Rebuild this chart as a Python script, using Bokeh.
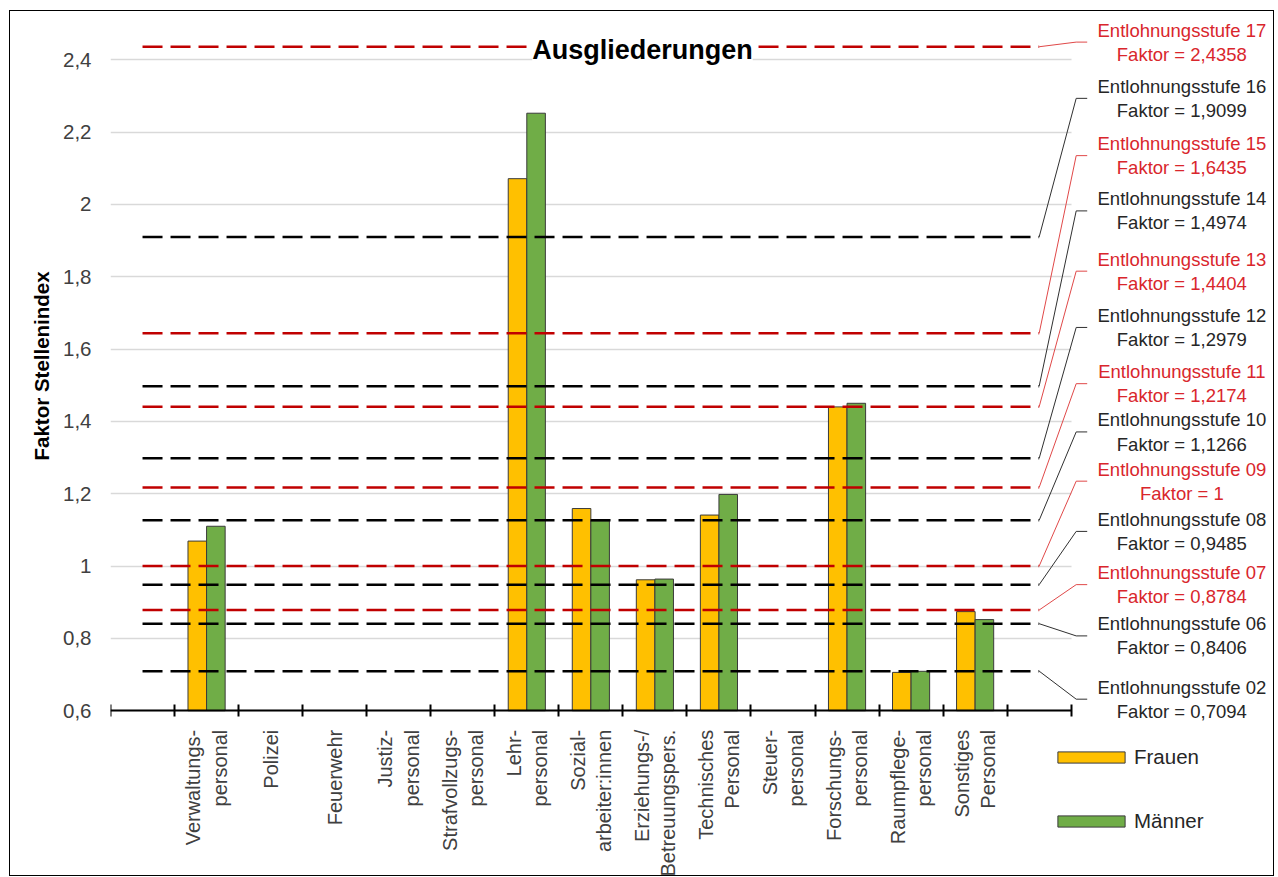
import math
from bokeh.plotting import figure
from bokeh.models import Range1d, FixedTicker, Label, Legend, LegendItem, ColumnDataSource
from bokeh.core.properties import value
from bokeh.embed import file_html
from bokeh.resources import INLINE

# ---------------- data ----------------
categories = ["", "Verwaltungs-\npersonal", "Polizei", "Feuerwehr", "Justiz-\npersonal",
              "Strafvollzugs-\npersonal", "Lehr-\npersonal", "Sozial-\narbeiter:innen",
              "Erziehungs-/\nBetreuungspers.", "Technisches\nPersonal", "Steuer-\npersonal",
              "Forschungs-\npersonal", "Raumpflege-\npersonal", "Sonstiges\nPersonal", ""]
frauen = [None, 1.069, None, None, None, None, 2.071, 1.159, 0.962, 1.141, None, 1.440, 0.706, 0.874, None]
maenner = [None, 1.110, None, None, None, None, 2.252, 1.125, 0.964, 1.198, None, 1.450, 0.709, 0.852, None]

stufen = ["17", "16", "15", "14", "13", "12", "11", "10", "09", "08", "07", "06", "02"]
faktoren = [2.4358, 1.9099, 1.6435, 1.4974, 1.4404, 1.2979, 1.2174, 1.1266, 1.0, 0.9485, 0.8784, 0.8406, 0.7094]
faktor_text = ["2,4358", "1,9099", "1,6435", "1,4974", "1,4404", "1,2979", "1,2174", "1,1266", "1",
               "0,9485", "0,8784", "0,8406", "0,7094"]
stufe_rot = [True, False, True, False, True, False, True, False, True, False, True, False, False]

y_ticks = [0.6, 0.8, 1.0, 1.2, 1.4, 1.6, 1.8, 2.0, 2.2, 2.4]
y_tick_labels = ["0,6", "0,8", "1", "1,2", "1,4", "1,6", "1,8", "2", "2,2", "2,4"]

# label anchor heights (layout, in axis units) for the right-hand annotations
label_y = [2.4486, 2.2931, 2.1347, 1.9819, 1.8153, 1.6597, 1.5042, 1.3708, 1.2347,
           1.0958, 0.9486, 0.8069, 0.6319]

# ---------------- styles ----------------
FONT = "Liberation Sans"
YELLOW = "#FFC000"
GREEN = "#70AD47"
RED_LINE = "#C00000"
RED_TEXT = "#D9262C"
RED_LEAD = "#E04848"
DARK = "#262626"

n = len(categories)
y_base = 0.6

p = figure(width=1265, height=866, output_backend="svg", toolbar_location=None,
           x_range=Range1d(0, 18.19), y_range=Range1d(0.1389, 2.5111),
           min_border_left=100, min_border_right=0, min_border_top=8, min_border_bottom=0)
p.styles = {"border": "1px solid black", "margin-left": "9px", "margin-top": "10px"}
p.outline_line_color = None
p.background_fill_color = "white"
p.border_fill_color = "white"

# grid
p.xgrid.visible = False
p.ygrid.ticker = FixedTicker(ticks=y_ticks)
p.ygrid.grid_line_color = "#D9D9D9"
p.ygrid.grid_line_width = 1.5
p.ygrid.cross_bounds = (0, n)

# y axis
ya = p.yaxis[0]
ya.ticker = FixedTicker(ticks=y_ticks)
ya.major_label_overrides = dict(zip(y_ticks, y_tick_labels))
ya.axis_line_color = None
ya.major_tick_line_color = None
ya.minor_tick_line_color = None
ya.major_tick_out = 0
ya.major_label_standoff = 19
ya.major_label_text_font = FONT
ya.major_label_text_font_size = "20.5px"
ya.major_label_text_color = "#404040"
# leading no-break spaces lift the centred title to sit beside the 0,6-2,4 scale
ya.axis_label = "\u00a0" * 29 + "Faktor Stellenindex"
ya.axis_label_text_font = FONT
ya.axis_label_text_font_style = "bold"
ya.axis_label_text_font_size = "20.5px"
ya.axis_label_text_color = "black"
ya.axis_label_standoff = 7

# x axis (drawn at the 0,6 baseline)
centers = [i + 0.5 for i in range(n)]
xa = p.xaxis[0]
xa.fixed_location = y_base
xa.ticker = FixedTicker(ticks=centers, minor_ticks=list(range(n + 1)))
xa.major_label_overrides = dict(zip(centers, categories))
xa.bounds = (0, n)
xa.axis_line_color = "black"
xa.axis_line_width = 2
xa.major_tick_line_color = None
xa.major_tick_in = 0
xa.major_tick_out = 0
xa.minor_tick_line_color = "black"
xa.minor_tick_line_width = 2
xa.minor_tick_in = 6
xa.minor_tick_out = 6
xa.major_label_orientation = math.pi / 2
xa.major_label_standoff = 13
xa.major_label_text_font = FONT
xa.major_label_text_font_size = "20px"
xa.major_label_text_color = "#404040"

# bars
bw = 0.29
fx = [i + 0.5 - bw / 2 for i, v in enumerate(frauen) if v is not None]
ft = [v for v in frauen if v is not None]
mx = [i + 0.5 + bw / 2 for i, v in enumerate(maenner) if v is not None]
mt = [v for v in maenner if v is not None]
rf = p.vbar(x=fx, top=ft, bottom=y_base, width=bw, fill_color=YELLOW, line_color="#3A3A3A", line_width=1)
rm = p.vbar(x=mx, top=mt, bottom=y_base, width=bw, fill_color=GREEN, line_color="#3A3A3A", line_width=1)

# dashed reference lines (over bars)
line_cols = [RED_LINE if r else "black" for r in stufe_rot]
p.multi_line(xs=[[0.5, n - 0.5] for _ in faktoren], ys=[[f, f] for f in faktoren],
             line_color=line_cols, line_width=2.5, line_dash="20 8")

# leader lines
bend_x, end_x = 15.078, 15.25
lead_cols = [RED_LEAD if r else "#303030" for r in stufe_rot]
p.multi_line(xs=[[n - 0.5, bend_x, end_x] for _ in faktoren],
             ys=[[f, ly, ly] for f, ly in zip(faktoren, label_y)],
             line_color=lead_cols, line_width=1)

# right-hand labels
txt = ["Entlohnungsstufe %s\nFaktor = %s" % (s, t) for s, t in zip(stufen, faktor_text)]
src = ColumnDataSource(dict(x=[16.728] * len(txt), y=label_y, text=txt,
                            color=[RED_TEXT if r else DARK for r in stufe_rot]))
p.text(x="x", y="y", text="text", source=src, text_color="color", text_align="center",
       text_baseline="middle", text_font=value(FONT), text_font_size="18.5px",
       text_line_height=1.15)

# title
title = Label(x=8.306, y=2.4278, text="Ausgliederungen", text_font=FONT, text_font_size="27px",
              text_font_style="bold", text_color="black", text_align="center",
              text_baseline="alphabetic", background_fill_color="white", padding=(0, 11))
p.add_layout(title)

# legend (bar legend glyphs are inset by 10% of the glyph box)
legend = Legend(items=[LegendItem(label="Frauen", renderers=[rf]),
                       LegendItem(label="Männer", renderers=[rm])],
                location=(939, 44), orientation="vertical", glyph_width=84, glyph_height=14,
                label_text_font=FONT, label_text_font_size="20.5px", label_text_color=DARK,
                spacing=40, padding=0, margin=0, label_standoff=1,
                border_line_color=None, background_fill_alpha=0)
p.add_layout(legend)

open("out.html", "w").write(file_html(p, INLINE))
